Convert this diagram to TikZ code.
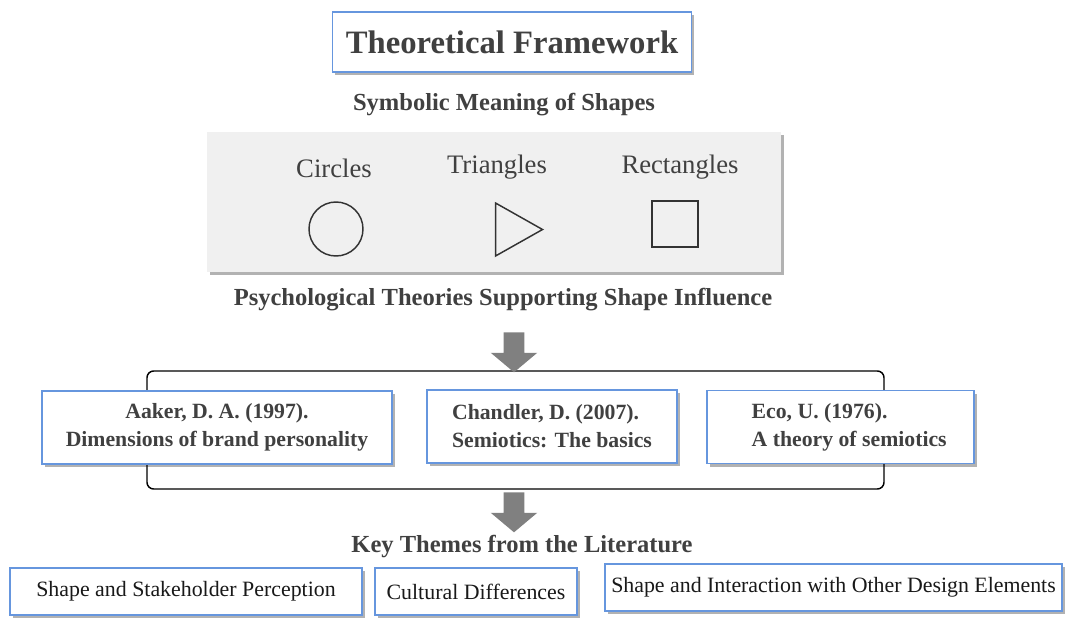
\documentclass[tikz,border=0pt]{standalone}
\usepackage{fontspec}
\setmainfont{Liberation Serif}
\usepackage{xcolor}
\usetikzlibrary{shapes.geometric, shapes.arrows, positioning, fit, shadows}

\definecolor{frameblue}{RGB}{102,150,222}
\definecolor{panelgray}{RGB}{240,240,240}
\definecolor{headgray}{RGB}{64,64,64}
\definecolor{arrowgray}{RGB}{128,128,128}

\begin{document}
\begin{tikzpicture}[
    x=0.75pt, y=-0.75pt,
    bluebox/.style={draw=frameblue, line width=1.1pt, fill=white, rectangle, inner sep=0pt, align=center, drop shadow={shadow xshift=2pt, shadow yshift=-2.5pt, fill=black, opacity=0.3}},
    refbox/.style={bluebox, minimum height=54.75pt, font=\fontsize{16.3}{21}\selectfont\bfseries, text=headgray},
    themebox/.style={bluebox, minimum height=35.25pt, font=\fontsize{16.4}{20}\selectfont, text=black!90},
    heading/.style={font=\fontsize{18.4}{22}\selectfont\bfseries, text=headgray},
    shapelabel/.style={font=\fontsize{20}{24}\selectfont, text=headgray},
    symbol/.style={draw=black!80, line width=1.1pt, inner sep=0pt},
    blockarrow/.style={single arrow, fill=arrowgray, draw=none, shape border rotate=270, minimum height=30pt, inner sep=7.5pt, single arrow head extend=9.75pt, single arrow tip angle=100}
]
\useasboundingbox (0,0) rectangle (1066,618);

% title
\node (title) [bluebox, minimum width=269pt, minimum height=45pt, font=\fontsize{24.5}{28}\selectfont\bfseries, text=headgray] at (512,42) {Theoretical Framework};
\node (symhead) [heading] at (504,105) {Symbolic Meaning of Shapes};

% shape panel
\node (panel) [fill=panelgray, minimum width=430.5pt, minimum height=105pt, inner sep=0pt, drop shadow={shadow xshift=2pt, shadow yshift=-2.5pt, fill=black, opacity=0.3}] at (494,202) {};
\node (circlab) [shapelabel] at (334,168) {Circles};
\node (trilab) [shapelabel] at (497,167) {Triangles};
\node (rectlab) [shapelabel] at (680,167) {Rectangles};
\node (circ) [symbol, circle, minimum size=40.5pt] at (336,229) {};
\node (tri) [symbol, isosceles triangle, isosceles triangle stretches, minimum width=39.75pt, minimum height=35.25pt, shape border rotate=0] at (511,229.5) {};
\node (sq) [symbol, rectangle, minimum size=34.5pt] at (675,224) {};

\node (psyhead) [heading] at (503,300) {Psychological Theories Supporting Shape Influence};

% references
\draw[line width=1.1pt, rounded corners=5pt] (147,371) rectangle (884,489);
\node (aaker) [refbox, minimum width=262.5pt] at (217,427.5) {Aaker, D. A. (1997).\\Dimensions of brand personality};
\node (chandler) [refbox, minimum width=187.5pt, align=left] at (552,426.5) {Chandler, D. (2007).\\Semiotics: The basics};
\node (eco) [refbox, minimum width=200.25pt, align=left] at (840.5,427) {\hspace*{13pt}Eco, U. (1976).\\\hspace*{13pt}A theory of semiotics};

\node (arrowin) [blockarrow] at (514,348) {};
\node (arrowout) [blockarrow] at (514,508) {};

% themes
\node (keyhead) [heading] at (522,546) {Key Themes from the Literature};
\node (perception) [themebox, minimum width=264pt] at (186,591.5) {Shape and Stakeholder Perception};
\node (culture) [themebox, minimum width=151.5pt] at (476,591.5) {Cultural Differences};
\node (interaction) [themebox, minimum width=342.75pt] at (833.5,587.5) {Shape and Interaction with Other Design Elements};
\end{tikzpicture}
\end{document}
